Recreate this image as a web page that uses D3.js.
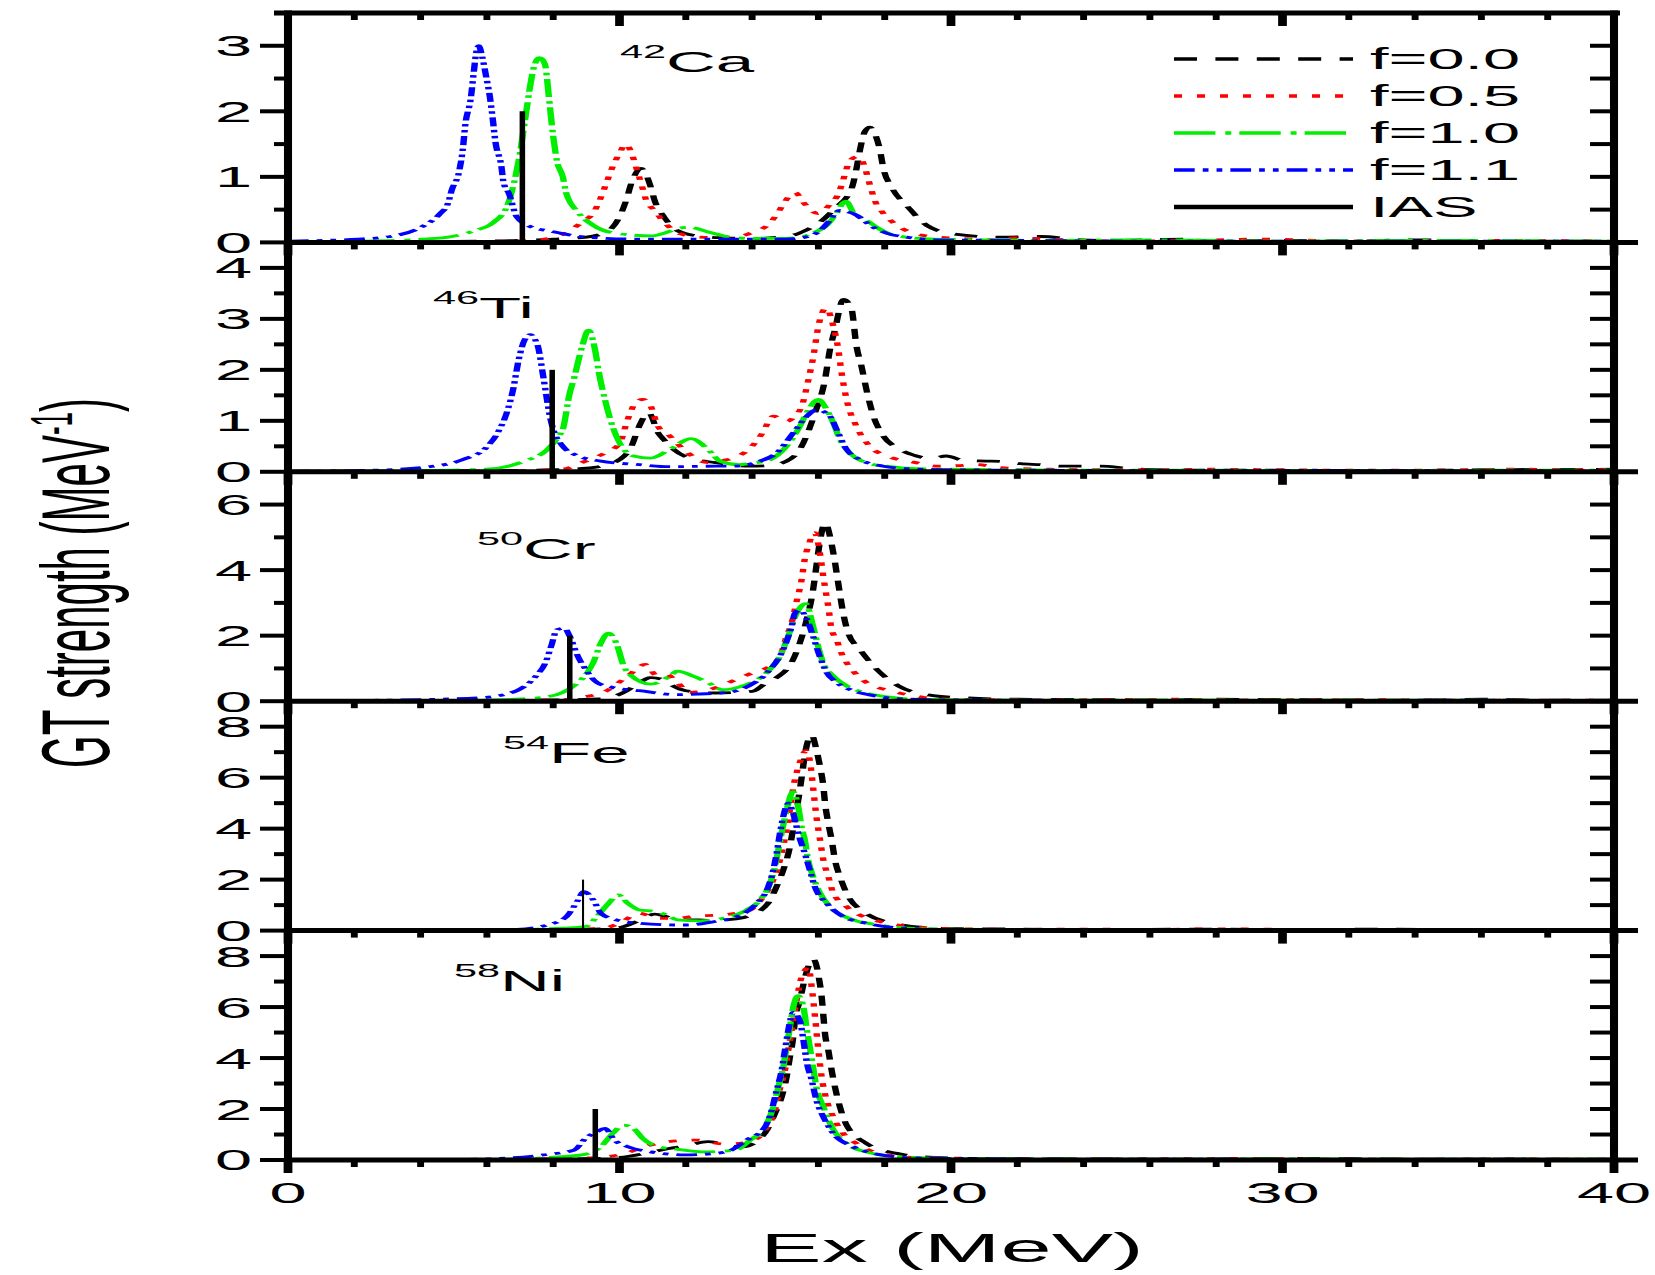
<!DOCTYPE html>
<html>
<head>
<meta charset="utf-8">
<script src="https://cdnjs.cloudflare.com/ajax/libs/d3/7.8.5/d3.min.js"></script>
<style>
  body { margin: 0; background: #fff; }
  svg { display: block; }
  text { font-family: "Liberation Sans", Arial, sans-serif; fill: #000; }
</style>
</head>
<body>
<svg width="1655" height="1275"></svg>
<script>
// panels, top to bottom
const massNumbers = ['42', '46', '50', '54', '58'];
const elements = ['Ca', 'Ti', 'Cr', 'Fe', 'Ni'];
const yMaxima = [3.5, 4.5, 7, 9, 9];
const yTickValues = [[0, 1, 2, 3], [0, 1, 2, 3, 4], [0, 2, 4, 6], [0, 2, 4, 6, 8], [0, 2, 4, 6, 8]];
const yMinorValues = [[0.5, 1.5, 2.5], [0.5, 1.5, 2.5, 3.5], [1, 3, 5], [1, 3, 5, 7], [1, 3, 5, 7]];
const xTickValues = [0, 10, 20, 30, 40];
const iasEnergy = [7.07, 7.97, 8.5, 8.9, 9.27];
const iasStrength = [2, 2, 2, 2, 2];
const seriesNames = ['f=0.0', 'f=0.5', 'f=1.0', 'f=1.1', 'IAS'];

// [Ex (MeV), GT strength (MeV^-1)]
const ca42_f00 = [[0,0.01],[3,0.01],[6,0.02],[8,0.05],[9,0.08],[9.67,0.18],[10,0.39],[10.2,0.64],[10.37,0.92],[10.65,1.13],[10.94,0.85],[11.06,0.64],[11.34,0.39],[11.75,0.18],[12.33,0.1],[13.1,0.07],[14,0.06],[15.14,0.1],[15.6,0.18],[16.05,0.31],[16.5,0.52],[17.0,0.82],[17.15,1.13],[17.25,1.4],[17.4,1.69],[17.55,1.76],[17.66,1.7],[17.86,1.4],[17.96,1.13],[18.2,0.85],[18.7,0.54],[19.27,0.26],[20.07,0.13],[21.5,0.08],[22.7,0.09],[23.9,0.04],[25,0.03],[27,0.05],[28,0.02],[30,0.03],[32,0.02],[34,0.04],[36,0.02],[38,0.02],[40,0.02]];
const ca42_f05 = [[0,0.01],[5,0.01],[7.36,0.03],[8.17,0.1],[8.87,0.31],[9.26,0.49],[9.45,0.7],[9.6,0.9],[9.79,1.15],[10.0,1.36],[10.19,1.5],[10.4,1.31],[10.5,1.15],[10.7,0.82],[10.8,0.65],[11.05,0.49],[11.34,0.31],[11.85,0.13],[12.44,0.08],[13.24,0.07],[13.9,0.13],[14.54,0.3],[14.79,0.46],[15.0,0.63],[15.29,0.76],[15.6,0.58],[15.99,0.44],[16.35,0.58],[16.6,0.74],[16.73,0.92],[16.83,1.09],[16.95,1.25],[17.2,1.31],[17.4,1.15],[17.5,0.97],[17.6,0.8],[17.7,0.64],[17.9,0.48],[18.26,0.3],[18.86,0.14],[19.6,0.08],[20.3,0.06],[21.5,0.04],[21.9,0.07],[22.6,0.06],[23.5,0.04],[25,0.02],[27,0.03],[29.5,0.05],[31,0.03],[33,0.02],[36,0.03],[40,0.02]];
const ca42_f10 = [[0,0.01],[2.3,0.02],[3.67,0.04],[4.83,0.08],[5.63,0.18],[6.21,0.31],[6.6,0.54],[6.79,0.85],[6.96,1.25],[7.18,1.97],[7.3,2.37],[7.42,2.68],[7.59,2.82],[7.75,2.72],[7.88,2.17],[7.99,1.66],[8.11,1.25],[8.29,1.0],[8.4,0.74],[8.75,0.46],[9.21,0.26],[10.0,0.13],[11.0,0.1],[11.4,0.15],[11.75,0.21],[12.1,0.23],[12.67,0.16],[13.5,0.07],[14.2,0.06],[15.0,0.06],[15.44,0.08],[16.0,0.18],[16.25,0.26],[16.5,0.41],[16.83,0.63],[17.05,0.46],[17.45,0.34],[17.76,0.23],[18.1,0.14],[18.66,0.08],[19.5,0.05],[21,0.04],[23,0.03],[26,0.04],[30,0.02],[34,0.03],[40,0.02]];
const ca42_f11 = [[0,0.02],[2.1,0.05],[3.2,0.1],[4.01,0.23],[4.59,0.44],[4.83,0.6],[4.94,0.8],[5.17,1.1],[5.28,1.45],[5.34,1.76],[5.52,2.22],[5.6,2.58],[5.68,2.9],[5.75,3.0],[5.86,2.83],[5.97,2.55],[6.09,2.22],[6.18,1.87],[6.25,1.56],[6.44,1.15],[6.5,0.92],[6.67,0.74],[6.9,0.39],[7.36,0.23],[7.83,0.18],[9.0,0.08],[10.6,0.05],[13,0.05],[15,0.05],[15.6,0.08],[16.05,0.18],[16.3,0.31],[16.65,0.49],[16.85,0.47],[17.05,0.44],[17.66,0.23],[18.06,0.14],[18.66,0.08],[19.5,0.04],[22,0.03],[26,0.02],[30,0.02],[35,0.02],[40,0.02]];

const ti46_f00 = [[0,0.01],[5,0.02],[8,0.04],[9.0,0.07],[9.44,0.11],[10.0,0.24],[10.36,0.5],[10.59,0.89],[10.88,1.16],[11.17,0.76],[11.34,0.63],[11.63,0.44],[12.1,0.27],[12.9,0.18],[13.9,0.11],[14.5,0.12],[15.04,0.21],[15.44,0.44],[15.9,1.16],[16.2,1.81],[16.35,2.4],[16.5,2.79],[16.75,3.38],[16.99,3.22],[17.15,2.46],[17.3,2.07],[17.45,1.61],[17.66,1.09],[17.9,0.76],[18.46,0.44],[18.96,0.31],[19.4,0.26],[19.86,0.31],[20.4,0.22],[21.07,0.21],[21.6,0.2],[22.1,0.16],[22.7,0.14],[23.3,0.11],[24.5,0.11],[25.5,0.06],[26.5,0.04],[28,0.03],[30,0.03],[33,0.02],[36,0.04],[40,0.05]];
const ti46_f05 = [[0,0.01],[6,0.02],[7.5,0.03],[8.29,0.05],[8.86,0.18],[9.56,0.37],[10.0,0.55],[10.25,1.03],[10.48,1.35],[10.7,1.42],[10.94,1.29],[11.16,0.89],[11.52,0.7],[12.0,0.4],[12.67,0.18],[13.0,0.21],[13.43,0.27],[13.9,0.44],[14.3,0.75],[14.64,1.09],[15.04,0.99],[15.3,1.1],[15.5,1.29],[15.7,1.81],[15.85,2.27],[16.0,2.86],[16.23,3.21],[16.45,2.86],[16.6,2.4],[16.7,1.94],[16.85,1.42],[17.15,0.89],[17.55,0.5],[18.06,0.31],[18.86,0.19],[19.6,0.11],[20.2,0.12],[20.77,0.14],[21.5,0.08],[23,0.05],[25,0.04],[28,0.05],[30,0.04],[33,0.03],[37,0.05],[40,0.04]];
const ti46_f10 = [[0,0.01],[3,0.02],[5.97,0.05],[7.14,0.21],[7.83,0.44],[8.17,0.7],[8.29,0.83],[8.5,1.55],[8.62,1.81],[8.86,2.43],[9.07,2.78],[9.26,2.4],[9.38,1.94],[9.56,1.42],[9.79,0.89],[10.0,0.57],[10.42,0.31],[10.94,0.27],[11.52,0.44],[12.16,0.65],[12.67,0.44],[13.03,0.21],[13.6,0.14],[14.0,0.17],[14.44,0.21],[15.04,0.5],[15.44,0.89],[15.65,1.16],[16.0,1.42],[16.25,1.22],[16.45,0.96],[16.65,0.63],[16.95,0.37],[17.45,0.18],[18.06,0.11],[18.96,0.06],[20,0.05],[22,0.04],[25,0.03],[28,0.03],[32,0.02],[36,0.03],[40,0.03]];
const ti46_f11 = [[0,0.01],[2.5,0.03],[4.13,0.09],[5.28,0.24],[5.97,0.47],[6.32,0.76],[6.6,1.16],[6.79,1.61],[6.96,2.2],[7.14,2.59],[7.31,2.69],[7.45,2.6],[7.54,2.46],[7.7,1.87],[7.92,1.03],[8.29,0.5],[8.75,0.31],[9.44,0.21],[10.6,0.14],[11.5,0.1],[12.9,0.11],[13.43,0.11],[14.24,0.21],[14.74,0.37],[15.24,0.76],[15.65,1.09],[15.95,1.22],[16.35,1.09],[16.55,0.83],[16.85,0.44],[17.25,0.24],[17.96,0.11],[18.66,0.06],[20,0.04],[23,0.03],[27,0.02],[31,0.03],[35,0.02],[40,0.02]];

const cr50_f00 = [[0,0.01],[5,0.02],[8,0.04],[9.44,0.07],[10.13,0.27],[10.6,0.57],[10.94,0.72],[11.28,0.67],[11.52,0.52],[12.0,0.32],[12.9,0.25],[14.0,0.3],[14.44,0.57],[14.74,0.72],[15.24,1.28],[15.44,1.78],[15.65,2.5],[15.84,3.4],[15.95,4.2],[16.05,4.9],[16.2,5.44],[16.4,4.79],[16.5,4.24],[16.6,3.59],[16.75,2.68],[16.9,2.08],[17.25,1.58],[17.71,1.02],[18.41,0.47],[19.46,0.17],[20.5,0.1],[22,0.06],[24,0.05],[26,0.04],[28,0.06],[30,0.05],[32,0.04],[34,0.03],[36,0.06],[38,0.03],[40,0.03]];
const cr50_f05 = [[0,0.01],[6,0.02],[8.29,0.05],[8.87,0.12],[9.56,0.29],[10.25,0.77],[10.77,1.12],[11.12,0.79],[11.4,0.82],[11.75,0.57],[12.1,0.27],[12.5,0.3],[13.0,0.45],[13.48,0.65],[14.08,0.89],[14.54,1.07],[14.84,1.37],[15.04,1.98],[15.19,2.38],[15.34,3.03],[15.49,3.69],[15.59,4.34],[15.7,4.75],[15.89,5.14],[16.05,4.49],[16.15,3.79],[16.25,3.18],[16.3,2.88],[16.4,2.18],[16.55,1.88],[16.65,1.58],[16.85,1.18],[17.05,0.92],[17.45,0.57],[18.16,0.32],[18.86,0.17],[19.6,0.07],[21,0.05],[23,0.04],[25,0.05],[27,0.06],[29,0.04],[31,0.05],[34,0.04],[37,0.03],[40,0.03]];
const cr50_f10 = [[0,0.01],[5,0.02],[6.5,0.05],[7.7,0.12],[8.29,0.27],[8.75,0.57],[9.03,0.87],[9.21,1.18],[9.44,1.78],[9.67,2.08],[9.9,1.78],[10.13,1.07],[10.36,0.77],[10.94,0.52],[11.52,0.77],[11.75,0.92],[12.21,0.77],[12.67,0.57],[13.1,0.35],[13.73,0.47],[14.44,0.87],[14.84,1.37],[15.09,1.98],[15.34,2.68],[15.62,2.98],[15.84,2.28],[15.99,1.68],[16.14,1.18],[16.45,0.77],[16.85,0.47],[17.45,0.25],[18.2,0.12],[19,0.06],[21,0.04],[24,0.03],[27,0.04],[30,0.03],[34,0.03],[40,0.02]];
const cr50_f11 = [[0,0.01],[4,0.05],[5.97,0.12],[6.9,0.32],[7.48,0.77],[7.77,1.18],[7.94,1.68],[8.11,2.18],[8.34,2.23],[8.5,1.98],[8.74,1.38],[8.98,0.97],[9.32,0.57],[9.79,0.42],[10.6,0.32],[11.75,0.2],[12.42,0.22],[13.3,0.27],[13.9,0.47],[14.5,0.92],[14.94,1.58],[15.19,2.28],[15.29,2.68],[15.44,2.78],[15.64,2.53],[15.84,1.98],[16.04,1.37],[16.25,0.87],[16.55,0.57],[17.05,0.32],[17.66,0.17],[18.46,0.07],[20,0.04],[23,0.03],[26,0.02],[30,0.02],[35,0.03],[40,0.02]];

const fe54_f00 = [[0,0.01],[6,0.02],[9,0.05],[10.0,0.12],[10.6,0.4],[11.06,0.65],[11.4,0.55],[11.75,0.42],[12.43,0.42],[12.9,0.38],[13.24,0.42],[13.84,0.55],[14.48,1.07],[14.74,1.73],[14.94,2.38],[15.14,3.29],[15.24,4.02],[15.34,4.73],[15.44,5.52],[15.52,6.24],[15.59,6.89],[15.8,7.67],[15.94,7.09],[16.05,6.43],[16.15,5.65],[16.2,5.0],[16.3,4.21],[16.4,3.56],[16.5,2.77],[16.65,2.12],[16.85,1.47],[17.35,0.75],[18.36,0.26],[19.67,0.09],[21,0.07],[23,0.05],[25,0.04],[27,0.06],[29,0.05],[31,0.04],[33,0.06],[35,0.04],[37,0.03],[40,0.03]];
const fe54_f05 = [[0,0.01],[6,0.02],[9.44,0.08],[10.0,0.29],[10.59,0.68],[11.17,0.48],[11.75,0.48],[12.33,0.58],[12.9,0.6],[13.5,0.68],[13.94,0.81],[14.34,1.33],[14.64,1.99],[14.84,2.77],[15.04,3.95],[15.29,5.91],[15.44,6.6],[15.63,7.06],[15.75,6.6],[15.85,5.5],[15.94,4.47],[16.05,3.56],[16.15,2.77],[16.3,2.12],[16.45,1.47],[16.85,0.94],[17.86,0.35],[18.86,0.16],[20,0.08],[22,0.05],[24,0.06],[26,0.04],[28,0.07],[30,0.05],[32,0.04],[34,0.05],[37,0.03],[40,0.04]];
const fe54_f10 = [[0,0.01],[6,0.02],[8.3,0.1],[8.98,0.16],[9.32,0.55],[9.67,1.07],[9.96,1.4],[10.25,1.07],[10.6,0.81],[11.06,0.75],[11.4,0.62],[11.75,0.42],[12.43,0.38],[13.33,0.55],[13.84,0.81],[14.24,1.2],[14.54,1.86],[14.69,2.51],[14.79,3.16],[14.89,3.82],[15.04,4.73],[15.24,5.45],[15.39,4.86],[15.49,4.08],[15.59,3.56],[15.69,2.77],[15.84,2.12],[16.05,1.47],[16.35,0.94],[17.05,0.42],[17.86,0.22],[19,0.08],[21,0.05],[24,0.04],[27,0.05],[30,0.03],[34,0.04],[40,0.03]];
const fe54_f11 = [[0,0.01],[5,0.02],[6.9,0.05],[7.83,0.22],[8.4,0.55],[8.75,1.2],[8.92,1.53],[9.21,1.2],[9.44,0.68],[9.9,0.42],[10.59,0.29],[11.75,0.22],[12.03,0.22],[12.84,0.35],[13.54,0.55],[14.14,1.07],[14.49,1.73],[14.64,2.38],[14.74,3.03],[14.84,3.82],[14.94,4.47],[15.09,5.0],[15.24,4.6],[15.39,3.82],[15.59,3.03],[15.74,2.38],[15.89,1.73],[16.25,1.07],[16.75,0.55],[17.45,0.29],[18.5,0.1],[20,0.05],[23,0.04],[26,0.03],[30,0.03],[35,0.02],[40,0.03]];

const ni58_f00 = [[0,0.01],[6,0.02],[9,0.05],[10.0,0.1],[10.94,0.3],[11.5,0.45],[12.0,0.55],[12.67,0.72],[13.2,0.6],[13.71,0.52],[14.1,0.7],[14.48,1.24],[14.69,1.82],[14.89,2.47],[15.04,3.25],[15.14,4.04],[15.24,4.82],[15.29,5.47],[15.44,6.25],[15.55,6.9],[15.7,7.6],[15.85,7.88],[16.03,7.03],[16.1,6.38],[16.15,5.66],[16.2,4.95],[16.3,4.3],[16.4,3.52],[16.5,2.86],[16.65,2.08],[16.85,1.37],[17.45,0.65],[18.36,0.26],[19.5,0.1],[21,0.06],[23,0.05],[25,0.04],[27,0.03],[29,0.05],[31,0.06],[33,0.04],[35,0.03],[38,0.03],[40,0.03]];
const ni58_f05 = [[0,0.01],[6,0.02],[9,0.08],[10.0,0.2],[10.94,0.59],[11.46,0.72],[12.33,0.78],[13.13,0.63],[13.6,0.65],[14.0,0.75],[14.39,1.17],[14.69,1.95],[14.84,2.8],[14.99,3.52],[15.09,4.3],[15.24,5.47],[15.34,6.25],[15.49,7.16],[15.7,7.55],[15.8,6.77],[15.9,5.6],[16.0,4.3],[16.1,3.25],[16.25,2.34],[16.45,1.69],[16.75,1.04],[17.15,0.65],[17.86,0.25],[19,0.1],[21,0.06],[23,0.04],[26,0.05],[29,0.06],[31,0.04],[34,0.03],[37,0.04],[40,0.03]];
const ni58_f10 = [[0,0.01],[6,0.02],[7.9,0.1],[8.86,0.2],[9.44,0.52],[9.79,1.04],[10.13,1.37],[10.48,1.17],[10.7,0.85],[11.17,0.52],[11.75,0.42],[12.5,0.32],[13.5,0.39],[13.94,0.78],[14.39,1.3],[14.64,2.08],[14.79,2.86],[14.94,3.64],[15.04,4.43],[15.14,5.21],[15.24,5.99],[15.39,6.45],[15.55,5.99],[15.64,5.21],[15.74,4.43],[15.84,3.64],[15.94,2.86],[16.15,2.08],[16.4,1.3],[16.85,0.65],[17.5,0.3],[18.5,0.12],[20,0.06],[23,0.04],[26,0.03],[30,0.04],[34,0.03],[40,0.03]];
const ni58_f11 = [[0,0.01],[5,0.02],[6.55,0.07],[7.71,0.2],[8.63,0.39],[8.98,0.85],[9.3,1.1],[9.56,1.24],[9.85,0.78],[10.25,0.52],[10.94,0.32],[11.98,0.2],[12.9,0.26],[13.3,0.35],[13.84,0.78],[14.39,1.3],[14.59,1.95],[14.74,2.73],[14.89,3.52],[14.99,4.3],[15.09,5.08],[15.24,5.79],[15.44,5.47],[15.55,4.69],[15.64,3.9],[15.8,3.12],[15.94,2.34],[16.15,1.69],[16.45,1.04],[17.05,0.52],[17.8,0.22],[19,0.08],[21,0.05],[24,0.03],[28,0.03],[32,0.02],[36,0.03],[40,0.02]];

const spectra = [
  [ca42_f00, ca42_f05, ca42_f10, ca42_f11],
  [ti46_f00, ti46_f05, ti46_f10, ti46_f11],
  [cr50_f00, cr50_f05, cr50_f10, cr50_f11],
  [fe54_f00, fe54_f05, fe54_f10, fe54_f11],
  [ni58_f00, ni58_f05, ni58_f10, ni58_f11]
];

// the original raster is stretched sideways, so draw everything inside a scaled group
const S = 2.3;
const px = v => v / S;

const colors = ['#000000', '#ff0000', '#00ee00', '#0000ff'];
const dashes = ['10,8', '3.5,6.5', '18,4.3,2.6,3.5', '9,3.5,2.5,3.5,2.5,3.5'];

const plotTop = 13, plotBottom = 1160;
const panelH = (plotBottom - plotTop) / 5;
const xLeft = 288, xRight = 1614;

const svg = d3.select('svg');
const root = svg.append('g').attr('transform', `scale(${S},1)`);

const x = d3.scaleLinear().domain([0, 40]).range([px(xLeft), px(xRight)]);

const line = (y) => d3.line()
  .x(d => x(d[0]))
  .y(d => y(d[1]))
  .curve(d3.curveMonotoneX);

spectra.forEach((series, i) => {
  const top = plotTop + i * panelH;
  const bottom = top + panelH;
  const y = d3.scaleLinear().domain([0, yMaxima[i]]).range([bottom, top]);
  const g = root.append('g').attr('class', 'panel');

  // curves
  series.forEach((pts, k) => {
    g.append('path')
      .datum(pts)
      .attr('d', line(y))
      .attr('fill', 'none')
      .attr('stroke', colors[k])
      .attr('stroke-width', 2.8)
      .attr('stroke-dasharray', dashes[k]);
  });

  // IAS bar
  g.append('line')
    .attr('x1', x(iasEnergy[i])).attr('x2', x(iasEnergy[i]))
    .attr('y1', y(0)).attr('y2', y(iasStrength[i]))
    .attr('stroke', '#000')
    .attr('stroke-width', i === 3 ? 0.9 : 2.4);

  // bottom axis line of this panel
  g.append('line')
    .attr('x1', px(xLeft)).attr('x2', px(1638))
    .attr('y1', bottom).attr('y2', bottom)
    .attr('stroke', '#000').attr('stroke-width', 5);

  // x ticks pointing down from the panel bottom
  d3.range(0, 41, 2).forEach(v => {
    const major = v % 10 === 0;
    g.append('line')
      .attr('x1', x(v)).attr('x2', x(v))
      .attr('y1', bottom).attr('y2', bottom + (major ? 13 : 7))
      .attr('stroke', '#000').attr('stroke-width', major ? 3.8 : 3);
  });

  // left y ticks (outward) and right y ticks (inward)
  yTickValues[i].forEach(v => {
    g.append('line')
      .attr('x1', px(xLeft - 28)).attr('x2', px(xLeft))
      .attr('y1', y(v)).attr('y2', y(v))
      .attr('stroke', '#000').attr('stroke-width', 4);
    g.append('line')
      .attr('x1', px(xRight - 24)).attr('x2', px(xRight))
      .attr('y1', y(v)).attr('y2', y(v))
      .attr('stroke', '#000').attr('stroke-width', 4);
    g.append('text')
      .attr('x', px(252)).attr('y', y(v) + 10.5)
      .attr('text-anchor', 'end')
      .attr('font-size', 29)
      .text(v);
  });
  yMinorValues[i].forEach(v => {
    g.append('line')
      .attr('x1', px(xLeft - 14)).attr('x2', px(xLeft))
      .attr('y1', y(v)).attr('y2', y(v))
      .attr('stroke', '#000').attr('stroke-width', 4);
    g.append('line')
      .attr('x1', px(xRight - 24)).attr('x2', px(xRight))
      .attr('y1', y(v)).attr('y2', y(v))
      .attr('stroke', '#000').attr('stroke-width', 4);
  });
});

// top frame line with inward ticks
root.append('line')
  .attr('x1', px(274)).attr('x2', px(1620))
  .attr('y1', plotTop).attr('y2', plotTop)
  .attr('stroke', '#000').attr('stroke-width', 5);
d3.range(2, 40, 2).forEach(v => {
  const major = v % 10 === 0;
  root.append('line')
    .attr('x1', x(v)).attr('x2', x(v))
    .attr('y1', plotTop).attr('y2', plotTop + (major ? 13 : 7))
    .attr('stroke', '#000').attr('stroke-width', major ? 3.8 : 3);
});

// left and right frame
[xLeft, xRight].forEach(xx => {
  root.append('line')
    .attr('x1', px(xx)).attr('x2', px(xx))
    .attr('y1', plotTop - 2.5).attr('y2', plotBottom + 13)
    .attr('stroke', '#000').attr('stroke-width', 3.5);
});

// x tick labels
xTickValues.forEach(v => {
  root.append('text')
    .attr('x', x(v)).attr('y', 1203)
    .attr('text-anchor', 'middle')
    .attr('font-size', 29)
    .text(v);
});

// nucleus labels
const labelPos = [[620, 72], [433, 318], [477, 559], [503, 763], [454, 991]];
massNumbers.forEach((m, i) => {
  const t = root.append('text')
    .attr('x', px(labelPos[i][0])).attr('y', labelPos[i][1]);
  t.append('tspan').attr('font-size', 18).attr('dy', -14).text(m);
  t.append('tspan').attr('font-size', 30).attr('dy', 14).text(elements[i]);
});

// legend
const legendY = [59, 96, 133, 170, 207];
seriesNames.forEach((name, k) => {
  root.append('line')
    .attr('x1', px(1174)).attr('x2', px(1353))
    .attr('y1', legendY[k]).attr('y2', legendY[k])
    .attr('stroke', k < 4 ? colors[k] : '#000')
    .attr('stroke-width', k < 4 ? 3.6 : 4.5)
    .attr('stroke-dasharray', k < 4 ? dashes[k] : null);
  root.append('text')
    .attr('x', px(1370)).attr('y', legendY[k] + 10.5)
    .attr('font-size', 29)
    .text(name);
});

// axis titles
root.append('text')
  .attr('x', px(952)).attr('y', 1262)
  .attr('text-anchor', 'middle')
  .attr('font-size', 40)
  .text('Ex (MeV)');

const yt = root.append('text')
  .attr('transform', `translate(${px(109)},583) rotate(-90)`)
  .attr('text-anchor', 'middle')
  .attr('font-size', 42);
yt.append('tspan').text('GT strength (MeV');
yt.append('tspan').attr('font-size', 26).attr('dy', -16).text('-1');
yt.append('tspan').attr('dy', 16).text(')');
</script>
</body>
</html>
